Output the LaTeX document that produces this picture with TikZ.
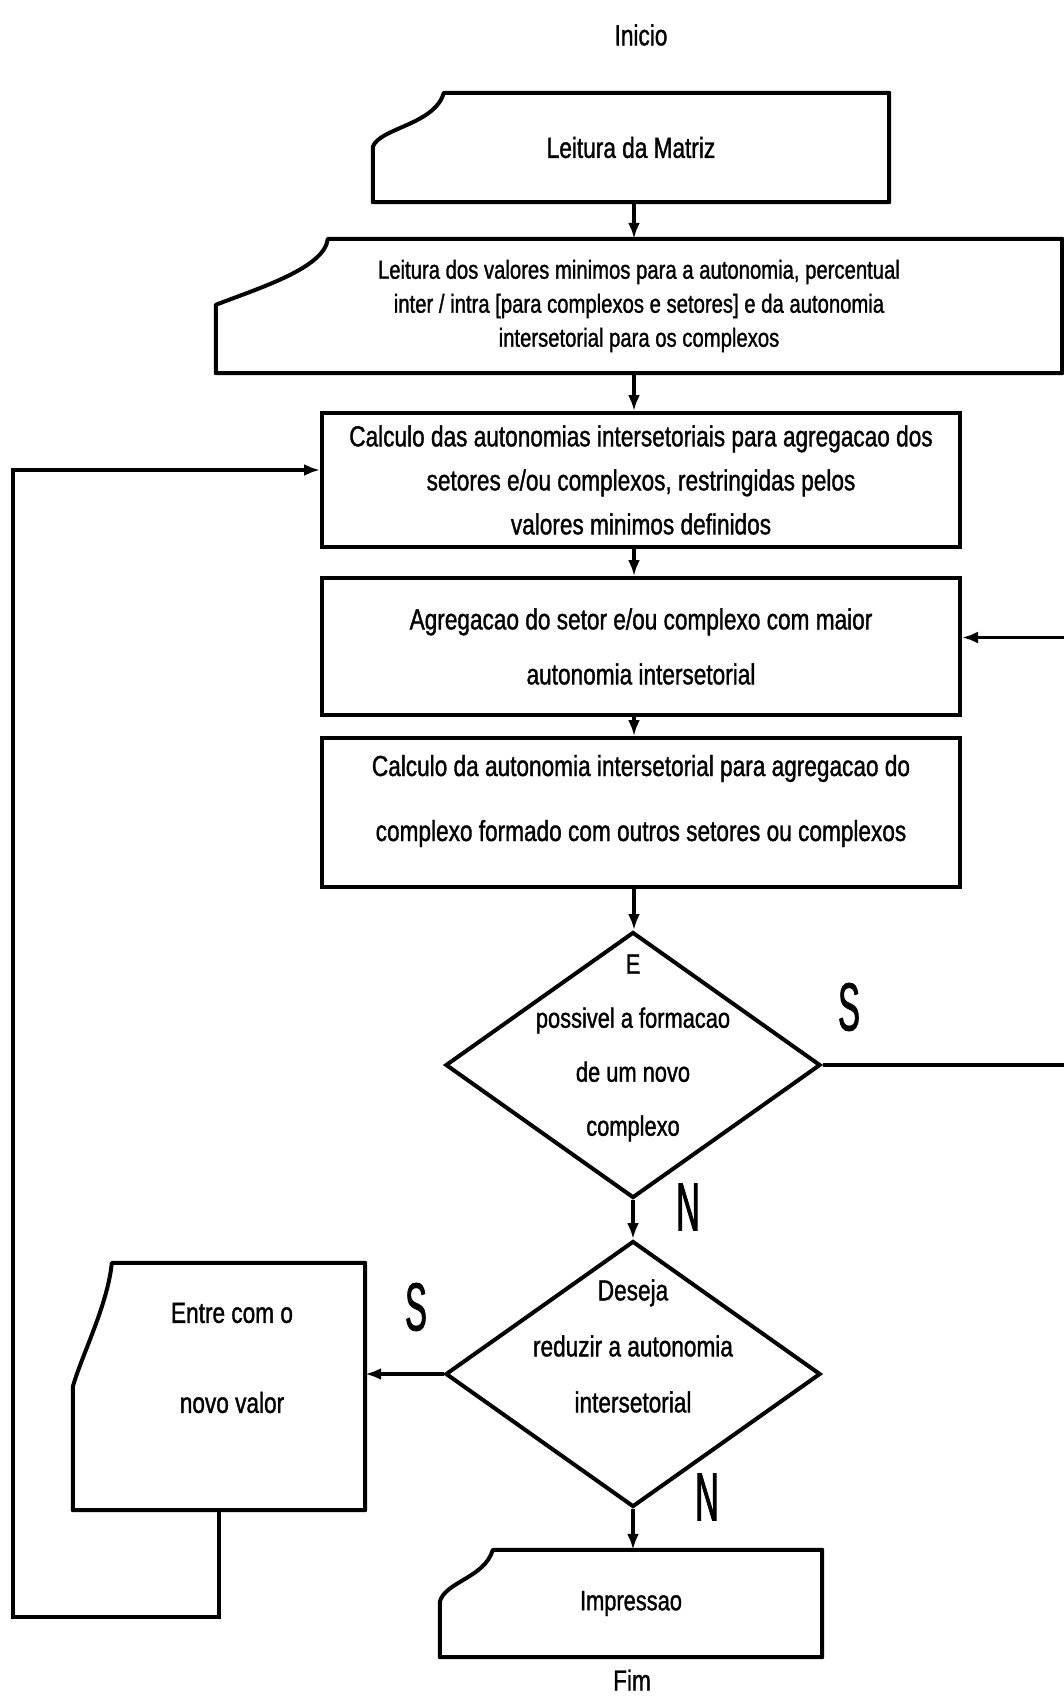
\documentclass[tikz,border=0pt]{standalone}
\usepackage{fontspec}
\usetikzlibrary{shapes.geometric,arrows.meta,calc}
\newfontfamily\plotfont[FakeStretch=0.78,FakeBold=1.2]{Liberation Sans}
\newfontfamily\signfont[FakeStretch=0.48,FakeBold=1.2]{Liberation Sans}

\begin{document}
\begin{tikzpicture}[x=1pt,y=-1pt,
  txt/.style={font=\plotfont\fontsize{29}{45}\selectfont,align=center,inner sep=0pt},
  card/.style={txt,minimum width=#1},
  proc/.style={txt,draw,line width=4pt,minimum width=638},
  dec/.style={diamond,draw,line width=4pt,minimum width=375,minimum height=266,inner sep=0pt},
  outline/.style={line width=4pt,line join=round},
  arr/.style={line width=3.2pt,-{Latex[length=16pt,width=12pt]}},
  sign/.style={font=\signfont\fontsize{68}{68}\selectfont,inner sep=0pt}]
  \path[use as bounding box] (0,0) rectangle (1064,1699);

  \node[txt] (start) at (641,35) {Inicio};

  \node[card=516,minimum height=109] (b1) at (631,147.5) {Leitura da Matriz};
  \draw[outline] ($(b1.north west)+(0,54)$) .. controls +(7,-19) and +(-9,32) .. ($(b1.north west)+(71,0)$)
    -- (b1.north east) -- (b1.south east) -- (b1.south west) -- cycle;

  \node[card=846,minimum height=134,font=\plotfont\fontsize{26}{34}\selectfont] (b2) at (639,306)
    {Leitura dos valores minimos para a autonomia, percentual\\inter / intra [para complexos e setores] e da autonomia\\intersetorial para os complexos};
  \draw[outline] ($(b2.north west)+(0,66)$) .. controls +(44,-17) and +(-3,29) .. ($(b2.north west)+(112,0)$)
    -- (b2.north east) -- (b2.south east) -- (b2.south west) -- cycle;

  \node[proc,minimum height=134,font=\plotfont\fontsize{29}{44}\selectfont] (b3) at (641,480)
    {Calculo das autonomias intersetoriais para agregacao dos\\setores e/ou complexos, restringidas pelos\\valores minimos definidos};
  \node[proc,minimum height=137,font=\plotfont\fontsize{29}{55}\selectfont] (b4) at (641,646.5)
    {Agregacao do setor e/ou complexo com maior\\autonomia intersetorial};
  \node[proc,minimum height=149] (b5) at (641,812.5) {};
  \node[txt,font=\plotfont\fontsize{29}{65}\selectfont] (b5t) at (641,801)
    {Calculo da autonomia intersetorial para agregacao do\\complexo formado com outros setores ou complexos};

  \node[dec] (d1) at (633,1065) {};
  \node[txt,font=\plotfont\fontsize{28}{54}\selectfont] (d1t) at (633,1048) {E\\possivel a formacao\\de um novo\\complexo};
  \node[dec] (d2) at (633,1374) {};
  \node[txt,font=\plotfont\fontsize{29}{56}\selectfont] (d2t) at (633,1346) {Deseja\\reduzir a autonomia\\intersetorial};

  \node[card=292,minimum height=247] (b6) at (219,1386.5) {};
  \node[txt,font=\plotfont\fontsize{29}{90}\selectfont] (b6t) at (232,1358) {Entre com o\\novo valor};
  \draw[outline] ($(b6.north west)+(0,124)$) .. controls +(9,-32) and +(-4,42) .. ($(b6.north west)+(39,0)$)
    -- (b6.north east) -- (b6.south east) -- (b6.south west) -- cycle;

  \node[card=382,minimum height=107,font=\plotfont\fontsize{28}{40}\selectfont] (b7) at (631,1603.5) {Impressao};
  \draw[outline] ($(b7.north west)+(0,52)$) .. controls +(5,-20) and +(-8,28) .. ($(b7.north west)+(53,0)$)
    -- (b7.north east) -- (b7.south east) -- (b7.south west) -- cycle;

  \node[txt] (stop) at (632,1680) {Fim};

  \node[sign] (yes1) at (849,1007) {S};
  \node[sign] (no1) at (688,1207) {N};
  \node[sign] (yes2) at (416,1307) {S};
  \node[sign] (no2) at (707,1497) {N};

  \coordinate (axis) at (634,0);
  \coordinate (rturn) at (1072,0);
  \coordinate (lturn) at (13,1617);
  \draw[arr] (axis |- b1.south) -- (axis |- b2.north);
  \draw[arr] (axis |- b2.south) -- (axis |- b3.north);
  \draw[arr] (axis |- b3.south) -- (axis |- b4.north);
  \draw[arr] (axis |- b4.south) -- (axis |- b5.north);
  \draw[arr] (axis |- b5.south) -- (axis |- d1.north);
  \draw[arr] (d1.south) -- (d2.north);
  \draw[arr] (d2.south) -- (d2.south |- b7.north);
  \draw[arr] (d2.west) -- (d2.west -| b6.east);
  \draw[arr] (d1.east) -- (d1.east -| rturn) |- ([yshift=9pt]b4.east);
  \draw[arr] (b6.south) |- (lturn) |- ([yshift=10pt]b3.west);
\end{tikzpicture}
\end{document}
